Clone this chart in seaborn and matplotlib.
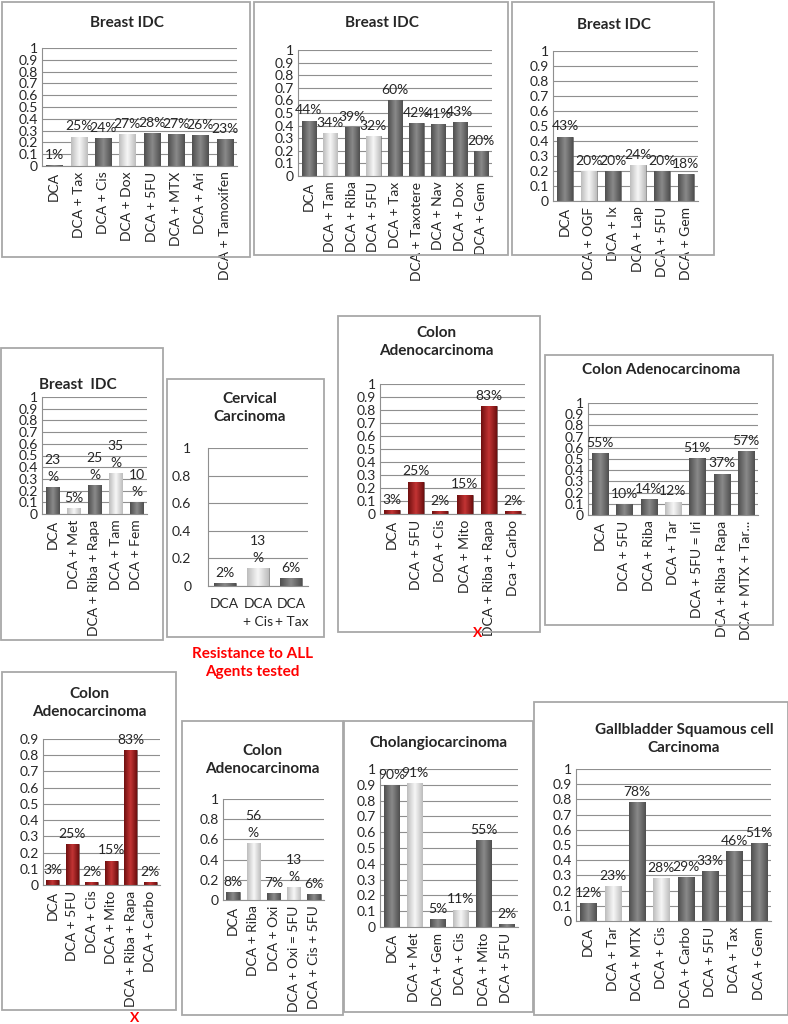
import matplotlib
matplotlib.use('Agg')
import matplotlib.pyplot as plt
from matplotlib.patches import Rectangle
from matplotlib.colors import LinearSegmentedColormap
import seaborn as sns
import pandas as pd
import numpy as np

# data per panel (fraction of cells killed)
labels_a = ['DCA', 'DCA + Tax', 'DCA + Cis', 'DCA + Dox', 'DCA + 5FU', 'DCA + MTX', 'DCA + Ari', 'DCA + Tamoxifen']
values_a = [0.01, 0.25, 0.24, 0.27, 0.28, 0.27, 0.26, 0.23]
light_a = [0, 1, 0, 1, 0, 0, 0, 0]

labels_b = ['DCA', 'DCA + Tam', 'DCA + Riba', 'DCA + 5FU', 'DCA + Tax', 'DCA + Taxotere', 'DCA + Nav', 'DCA + Dox', 'DCA + Gem']
values_b = [0.44, 0.34, 0.39, 0.32, 0.60, 0.42, 0.41, 0.43, 0.20]
light_b = [0, 1, 0, 1, 0, 0, 0, 0, 0]

labels_c = ['DCA', 'DCA + OGF', 'DCA + Ix', 'DCA + Lap', 'DCA + 5FU', 'DCA + Gem']
values_c = [0.43, 0.20, 0.20, 0.24, 0.20, 0.18]
light_c = [0, 1, 0, 1, 0, 0]

labels_d = ['DCA', 'DCA + Met', 'DCA + Riba + Rapa', 'DCA + Tam', 'DCA + Fem']
values_d = [0.23, 0.05, 0.25, 0.35, 0.10]
light_d = [0, 1, 0, 1, 0]

labels_e = ['DCA', 'DCA\n+ Cis', 'DCA\n+ Tax']
values_e = [0.02, 0.13, 0.06]
light_e = [0, 1, 0]

labels_f = ['DCA', 'DCA + 5FU', 'DCA + Cis', 'DCA + Mito', 'DCA + Riba + Rapa', 'Dca + Carbo']
values_f = [0.03, 0.25, 0.02, 0.15, 0.83, 0.02]

labels_g = ['DCA', 'DCA + 5FU', 'DCA + Riba', 'DCA + Tar', 'DCA + 5FU = Iri', 'DCA + Riba + Rapa', 'DCA + MTX + Tar...']
values_g = [0.55, 0.10, 0.14, 0.12, 0.51, 0.37, 0.57]
light_g = [0, 0, 0, 1, 0, 0, 0]

labels_h = ['DCA', 'DCA + 5FU', 'DCA + Cis', 'DCA + Mito', 'DCA + Riba + Rapa', 'DCA + Carbo']
values_h = [0.03, 0.25, 0.02, 0.15, 0.83, 0.02]

labels_i = ['DCA', 'DCA + Riba', 'DCA + Oxi', 'DCA + Oxi = 5FU', 'DCA + Cis + 5FU']
values_i = [0.08, 0.56, 0.07, 0.13, 0.06]
light_i = [0, 1, 0, 1, 0]

labels_j = ['DCA', 'DCA + Met', 'DCA + Gem', 'DCA + Cis', 'DCA + Mito', 'DCA + 5FU']
values_j = [0.90, 0.91, 0.05, 0.11, 0.55, 0.02]
light_j = [0, 1, 0, 1, 0, 0]

labels_k = ['DCA', 'DCA + Tar', 'DCA + MTX', 'DCA + Cis', 'DCA + Carbo', 'DCA + 5FU', 'DCA + Tax', 'DCA + Gem']
values_k = [0.12, 0.23, 0.78, 0.28, 0.29, 0.33, 0.46, 0.51]
light_k = [0, 1, 0, 1, 0, 0, 0, 0]

sns.set_style('white')
plt.rcParams['font.family'] = ['Lato', 'DejaVu Sans']

W, H = 788, 1024
fig = plt.figure(figsize=(W / 100, H / 100), dpi=100)

DARK = '#707070'
LIGHT = '#dadada'
RED = '#a41f1f'
# edge / centre shades for the bevel look
SHADE = {
    DARK: ['#4f4f4f', '#8a8a8a', '#4f4f4f'],
    LIGHT: ['#bdbdbd', '#f7f7f7', '#bdbdbd'],
    RED: ['#6e0f0f', '#c33434', '#6e0f0f'],
}


def rect(l, t, r, b):
    return [l / W, 1 - b / H, (r - l) / W, (b - t) / H]


def frame(l, t, r, b):
    fig.add_artist(Rectangle((l / W, 1 - b / H), (r - l) / W, (b - t) / H,
                             transform=fig.transFigure, fill=False,
                             ec='#a8a8a8', lw=1.3))


def ftext(x, y, s, **kw):
    fig.text(x / W, 1 - y / H, s, ha='center', va='center', **kw)


def panel(box, labels, values, light=None, red=False, ymax=1.0, step=0.1,
          wrap=False, rot=90, pad=3, xpad=4):
    ax = fig.add_axes(rect(*box))
    if red:
        cols = [RED] * len(values)
    else:
        cols = [LIGHT if f else DARK for f in light]
    df = pd.DataFrame({'cat': labels, 'val': values})
    sns.barplot(data=df, x='cat', y='val', hue='cat', palette=cols,
                legend=False, ax=ax, width=0.66, edgecolor='#555555',
                linewidth=0.4, saturation=1)
    xl = ax.get_xlim()
    # horizontal gradient inside each bar
    grad = np.linspace(0, 1, 64).reshape(1, -1)
    for cont, c in zip(ax.containers, cols):
        cmap = LinearSegmentedColormap.from_list('b', SHADE[c])
        for p in cont.patches:
            im = ax.imshow(grad, cmap=cmap, aspect='auto',
                           extent=[p.get_x(), p.get_x() + p.get_width(),
                                   0, p.get_height()],
                           zorder=p.get_zorder() + 0.1)
            im.set_clip_path(p)
    ax.set_xlim(xl)
    ax.set_aspect('auto')
    ax.set_ylim(0, ymax)
    ticks = np.round(np.arange(0, ymax + 1e-9, step), 2)
    ax.set_yticks(ticks)
    ax.set_yticklabels([f'{t:g}' for t in ticks])
    ax.yaxis.grid(True, color='#8f8f8f', lw=0.8)
    ax.set_axisbelow(True)
    for s in ['top', 'right']:
        ax.spines[s].set_visible(False)
    for s in ['left', 'bottom']:
        ax.spines[s].set_color('#8f8f8f')
        ax.spines[s].set_linewidth(0.8)
    ax.set_xlabel('')
    ax.set_ylabel('')
    ax.tick_params(axis='both', length=0, labelsize=10)
    ax.tick_params(axis='y', pad=pad)
    ax.tick_params(axis='x', pad=xpad)
    plt.setp(ax.get_xticklabels(), rotation=rot)
    if rot == 0:
        plt.setp(ax.get_xticklabels(), linespacing=1.5)
    for cont, v in zip(ax.containers, values):
        txt = f'{v * 100:.0f}%'
        if wrap and v >= 0.1:
            txt = txt[:-1] + '\n%'
        ax.bar_label(cont, labels=[txt], padding=3, fontsize=10,
                     linespacing=1.5)
    return ax


# frames
frame(2, 2, 250, 257)
frame(254, 2, 508, 255)
frame(512, 2, 714, 255)
frame(1, 348, 163, 640)
frame(167, 379, 324, 637)
frame(338, 316, 540, 632)
frame(545, 355, 773, 625)
frame(2, 672, 176, 1010)
frame(182, 721, 343, 1015)
frame(344, 721, 533, 1012)
frame(534, 702, 788, 1015)

panel((42, 48, 237, 166), labels_a, values_a, light_a)
panel((298, 50, 492, 176), labels_b, values_b, light_b)
panel((553, 51, 698, 201), labels_c, values_c, light_c)
panel((42, 397, 147, 514), labels_d, values_d, light_d, wrap=True)
panel((208, 448, 308, 586), labels_e, values_e, light_e, step=0.2,
      wrap=True, rot=0, pad=12, xpad=9)
panel((380, 384, 525, 514), labels_f, values_f, red=True)
panel((588, 403, 758, 515), labels_g, values_g, light_g)
panel((43, 739, 160, 885), labels_h, values_h, red=True, ymax=0.9)
panel((223, 799, 324, 900), labels_i, values_i, light_i, step=0.2, wrap=True)
panel((380, 769, 518, 927), labels_j, values_j, light_j)
panel((576, 769, 771, 921), labels_k, values_k, light_k)

# titles
tkw = dict(fontsize=11, fontweight='bold', linespacing=1.3)
ftext(127, 23, 'Breast IDC', **tkw)
ftext(382, 23, 'Breast IDC', **tkw)
ftext(614, 25, 'Breast IDC', **tkw)
ftext(78, 385, 'Breast  IDC', **tkw)
ftext(250, 408, 'Cervical\nCarcinoma', **tkw)
ftext(436, 342, 'Colon\nAdenocarcinoma', **tkw)
ftext(661, 370, 'Colon Adenocarcinoma', **tkw)
ftext(89, 703, 'Colon\nAdenocarcinoma', **tkw)
ftext(262, 760, 'Colon\nAdenocarcinoma', **tkw)
ftext(438, 743, 'Cholangiocarcinoma', **tkw)
ftext(684, 739, 'Gallbladder Squamous cell\nCarcinoma', **tkw)

# red annotations
ftext(252, 663, 'Resistance to ALL\nAgents tested', color='#ff0000',
      fontsize=11, fontweight='bold', linespacing=1.3)
ftext(478, 633, 'X', color='#ff0000', fontsize=10, fontweight='bold')
ftext(135, 1018, 'X', color='#ff0000', fontsize=10, fontweight='bold')

fig.savefig('out.png', dpi=100)
